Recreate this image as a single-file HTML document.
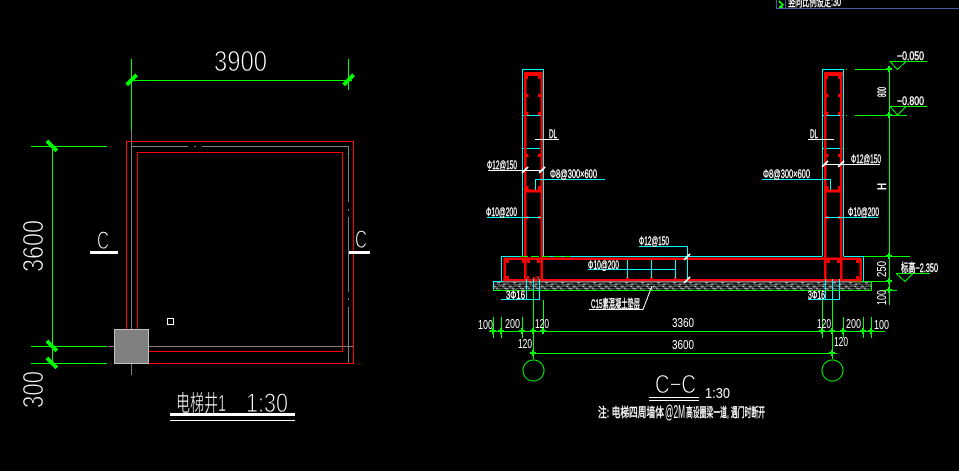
<!DOCTYPE html>
<html><head><meta charset="utf-8"><style>
html,body{margin:0;padding:0;background:#000;overflow:hidden;width:959px;height:471px}
svg{display:block}
text{font-family:"Liberation Sans","Noto Sans CJK SC",sans-serif;fill:#fff}
.n{stroke:#000;stroke-width:.9px}
.m{stroke:#000;stroke-width:.5px}
.b{font-size:12px;stroke:#fff;stroke-width:.4px}
.g{stroke:#0f0;fill:none}.r{stroke:#f00;fill:none}.c{stroke:#0ff;fill:none}.y{stroke:#808080;fill:none}.w{stroke:#fff;fill:none}
</style></head><body>
<svg width="959" height="471" viewBox="0 0 959 471" xmlns="http://www.w3.org/2000/svg" shape-rendering="crispEdges">
<defs>
<g id="t"><path d="M-5 5L5 -5" stroke="#0f0" stroke-width="4"/></g>
<g id="u"><path d="M-5 -5L5 5" stroke="#0f0" stroke-width="4"/></g>
<g id="k"><path d="M-3 0H3M0 -3V3" stroke="#0f0" stroke-width="2"/></g>
<g id="wt"><path d="M-3 3L3 -3" stroke="#fff" stroke-width="2"/></g>
<pattern id="h" width="16" height="9" patternUnits="userSpaceOnUse" x="493" y="282">
<rect width="16" height="9" fill="#4a4a4a"/>
<path d="M0 1.5h4M7 1.5h3M12 3.5h4M2 3.5h3M5 5.5h5M13 5.5h2M0 7.5h3M8 7.5h4" stroke="#000" stroke-width="1"/>
<path d="M4 .5h3M10 2.5h2M0 4.5h3M9 4.5h2M3 6.5h2M11 6.5h4M5 8.5h3" stroke="#a0a0a0" stroke-width="1"/>
</pattern>
</defs>

<!-- PLAN -->
<path class="y" d="M131.5 130V375M131.5 146.5H188M194 146.5H196M202 146.5H348.5V202M348.5 209V211M348.5 217V292M348.5 298V300M348.5 307V363M108 346.5H353"/>
<rect class="r" x="126.5" y="141.5" width="227" height="222"/>
<rect class="r" x="137.5" y="152.5" width="205" height="199"/>
<rect x="114.5" y="329.5" width="34" height="34" fill="#808080" stroke="#c0c0c0"/>
<rect class="w" x="167.5" y="318.5" width="6" height="6"/>
<path class="g" d="M131.5 59V130M348.5 59V90M131 80.5H352M31 146.5H107M31 346.5H107M31 363.5H107M52.5 146V364M348.5 153V154"/>
<use href="#t" x="131.5" y="80"/><use href="#t" x="348.5" y="80"/>
<use href="#u" x="52" y="146"/><use href="#u" x="52" y="346"/><use href="#u" x="52" y="363"/>
<text x="214" y="71" font-size="29" class="n" textLength="53" lengthAdjust="spacingAndGlyphs">3900</text>
<text transform="translate(43 272) rotate(-90)" font-size="29" class="n" textLength="52" lengthAdjust="spacingAndGlyphs">3600</text>
<text transform="translate(43 408) rotate(-90)" font-size="29" class="n" textLength="37" lengthAdjust="spacingAndGlyphs">300</text>
<text x="97" y="249" font-size="25" class="n" textLength="12" lengthAdjust="spacingAndGlyphs">C</text>
<text x="355" y="248" font-size="25" class="n" textLength="12" lengthAdjust="spacingAndGlyphs">C</text>
<rect x="90" y="251" width="28" height="3" fill="#fff"/>
<rect x="349" y="251" width="21" height="3" fill="#fff"/>
<text x="176" y="411" font-size="23" class="m" textLength="50" lengthAdjust="spacingAndGlyphs">电梯井1</text>
<text x="246" y="412" font-size="27" class="n" textLength="42" lengthAdjust="spacingAndGlyphs">1:30</text>
<rect x="170" y="413" width="125" height="3" fill="#fff"/>
<rect x="170" y="420" width="125" height="1" fill="#fff"/>

<!-- top right -->
<path d="M776.5 0V8.5H959M785.5 0V8" stroke="#4a5aa8" fill="none"/>
<path d="M779 1L783 5L779 7H783" stroke="#0f0" fill="none" stroke-width="1.5"/>
<text x="788" y="6" class="b" textLength="53" lengthAdjust="spacingAndGlyphs">竖向比例设定:30</text>

<!-- SECTION hatch -->
<rect x="493.5" y="281.5" width="378" height="9" fill="url(#h)"/>
<path class="c" d="M493.5 290.5V281.5H850"/>
<path class="g" d="M493.5 290.5H871.5V281.5H850M855 256.5H910M880 290.5H897M855 281.5H892"/>

<!-- left wall -->
<path class="c" d="M522.5 256V69.5H543.5V256M522.5 115.5H543.5M523 148.5H540"/>
<path d="M525 76V258M541.5 76V258" stroke="#f00" stroke-width="2.5" fill="none"/>
<rect x="524" y="72" width="19" height="4" fill="#f00"/>
<rect x="525" y="189.5" width="17" height="3" fill="#f00"/>
<g fill="#f00">
<rect x="526" y="76" width="2" height="3"/><rect x="538" y="76" width="2" height="3"/>
<rect x="526" y="94" width="2.5" height="3"/><rect x="538" y="94" width="2.5" height="3"/>
<rect x="526" y="112" width="2.5" height="3"/><rect x="538" y="112" width="2.5" height="3"/>
<rect x="526" y="154" width="2.5" height="3"/><rect x="538" y="154" width="2.5" height="3"/>
<rect x="526" y="186" width="2.5" height="4"/><rect x="538" y="186" width="2.5" height="4"/>
<rect x="526" y="216" width="2.5" height="3"/><rect x="538" y="216" width="2.5" height="3"/>
</g>
<!-- right wall -->
<path class="c" d="M822.5 256V69.5H843.5V256M822.5 115.5H843.5M823 148.5H843"/>
<path d="M825 76V258M841 76V258" stroke="#f00" stroke-width="2.5" fill="none"/>
<rect x="824" y="72" width="19" height="4" fill="#f00"/>
<rect x="825" y="189.5" width="17" height="3" fill="#f00"/>
<g fill="#f00">
<rect x="826" y="76" width="2" height="3"/><rect x="838" y="76" width="2" height="3"/>
<rect x="826" y="94" width="2.5" height="3"/><rect x="838" y="94" width="2.5" height="3"/>
<rect x="826" y="112" width="2.5" height="3"/><rect x="838" y="112" width="2.5" height="3"/>
<rect x="826" y="154" width="2.5" height="3"/><rect x="838" y="154" width="2.5" height="3"/>
<rect x="826" y="186" width="2.5" height="4"/><rect x="838" y="186" width="2.5" height="4"/>
<rect x="826" y="216" width="2.5" height="3"/><rect x="838" y="216" width="2.5" height="3"/>
</g>

<!-- base -->
<path class="c" d="M522.5 256.5H501.5V281.5M543.5 256.5H822.5M843.5 256.5H863.5V281.5"/>
<path d="M520 256.5H570" stroke="#0f0" stroke-dasharray="8 3"/>
<path d="M504 258.5H861M503 280H862" stroke="#f00" stroke-width="2.5" fill="none"/>
<path d="M504.5 258V281M860.5 258V281" stroke="#f00" stroke-width="2.5" fill="none"/>
<path d="M525 258V281M541.5 258V281M825 258V281M841 258V281" stroke="#f00" stroke-width="2.5" fill="none"/>
<g fill="#f00">
<rect x="506" y="260" width="3" height="3"/><rect x="506" y="276" width="3" height="3"/>
<rect x="522" y="260" width="2" height="3"/><rect x="527" y="260" width="3" height="3"/>
<rect x="537" y="260" width="3" height="3"/><rect x="527" y="276" width="2" height="3"/>
<rect x="537" y="276" width="2" height="3"/><rect x="533" y="277" width="2" height="2"/>
<rect x="827" y="260" width="3" height="3"/><rect x="837" y="260" width="3" height="3"/>
<rect x="856" y="260" width="3" height="3"/><rect x="856" y="276" width="3" height="3"/>
<rect x="626" y="277" width="2.5" height="2"/><rect x="650" y="277" width="2.5" height="2"/><rect x="674" y="277" width="2.5" height="2"/>
</g>
<path class="c" d="M588 269.5H676M627.5 260V278M651.5 260V278M675.5 260V278M639 246.5H687.5V280"/>
<use href="#wt" x="687" y="257"/><use href="#wt" x="687" y="280"/>

<!-- leaders left -->
<path class="w" d="M488 170.5H543M535 139.5H559"/>
<use href="#wt" x="525" y="170"/><use href="#wt" x="542" y="170"/>
<path class="c" d="M605 179.5H535.5V190M487 217.5H541"/>
<!-- leaders right -->
<path class="w" d="M825 164.5H880M808 139.5H834"/>
<use href="#wt" x="825" y="164"/><use href="#wt" x="841" y="164"/>
<path class="c" d="M762 179.5H830.5V190M825 217.5H878"/>
<text x="549" y="138" class="b" textLength="8" lengthAdjust="spacingAndGlyphs">DL</text>
<text x="810" y="138" class="b" textLength="8" lengthAdjust="spacingAndGlyphs">DL</text>
<text x="487" y="169" class="b" textLength="30" lengthAdjust="spacingAndGlyphs">Φ12@150</text>
<text x="550" y="178" class="b" textLength="47" lengthAdjust="spacingAndGlyphs">Φ8@300×600</text>
<text x="486" y="216" class="b" textLength="31" lengthAdjust="spacingAndGlyphs">Φ10@200</text>
<text x="851" y="163" class="b" textLength="30" lengthAdjust="spacingAndGlyphs">Φ12@150</text>
<text x="763" y="178" class="b" textLength="47" lengthAdjust="spacingAndGlyphs">Φ8@300×600</text>
<text x="848" y="216" class="b" textLength="31" lengthAdjust="spacingAndGlyphs">Φ10@200</text>
<text x="639" y="245" class="b" textLength="30" lengthAdjust="spacingAndGlyphs">Φ12@150</text>
<text x="588" y="269" class="b" textLength="31" lengthAdjust="spacingAndGlyphs">Φ10@200</text>

<!-- bottom rebar callouts -->
<path class="c" d="M501 299.5H539.5V279M526.5 299V279M533.5 299V279M808 299.5H839.5V279M825.5 299V279M832.5 299V279"/>
<text x="506" y="299" class="b" textLength="19" lengthAdjust="spacingAndGlyphs">3Φ16</text>
<text x="808" y="299" class="b" textLength="17" lengthAdjust="spacingAndGlyphs">3Φ16</text>
<path class="w" d="M589 309.5H643L652 286"/>
<text x="591" y="308" class="b" textLength="49" lengthAdjust="spacingAndGlyphs">C15素混凝土垫层</text>

<!-- right dims -->
<path class="g" d="M855 69.5H892M855 115.5H907M889.5 69V305M890 61.5H927M890 106.5H927M890 61.5L897.5 69.5L906 61.5M890 106.5L897.5 115L906 106.5M896 273.5H930M896 273.5L905 281.5L913 273.5"/>
<path d="M846.5 69V70M846.5 115V116" stroke="#0f0"/>
<use href="#k" x="889" y="69"/><use href="#k" x="889" y="115"/><use href="#k" x="889" y="256"/><use href="#k" x="889" y="281"/><use href="#k" x="889" y="290"/>
<text x="897" y="60" class="b" textLength="27" lengthAdjust="spacingAndGlyphs">−0.050</text>
<text x="897" y="105" class="b" textLength="27" lengthAdjust="spacingAndGlyphs">−0.800</text>
<text x="901" y="272" class="b" textLength="37" lengthAdjust="spacingAndGlyphs">标高−2.350</text>
<text transform="translate(886 97) rotate(-90)" class="b" textLength="10" lengthAdjust="spacingAndGlyphs">800</text>
<text transform="translate(886 190) rotate(-90)" class="b" textLength="7" lengthAdjust="spacingAndGlyphs">H</text>
<text transform="translate(886 277) rotate(-90)" font-size="13" textLength="16" lengthAdjust="spacingAndGlyphs">250</text>
<text transform="translate(886 305) rotate(-90)" font-size="13" textLength="15" lengthAdjust="spacingAndGlyphs">100</text>

<!-- bottom dims -->
<path class="g" d="M489 331.5H885M533 353.5H837M493.5 317V338M501.5 317V338M522.5 317V338M533.5 291V359M543.5 300V331M822.5 300V338M832.5 300V359M843.5 317V338M863.5 317V338M871.5 317V338"/>
<g fill="none" stroke="#0f0"><circle cx="533.5" cy="370.5" r="10.5" shape-rendering="auto"/><circle cx="832.5" cy="370.5" r="10.5" shape-rendering="auto"/></g>
<use href="#k" x="493" y="331"/><use href="#k" x="501" y="331"/><use href="#k" x="522" y="331"/><use href="#k" x="533" y="331"/><use href="#k" x="543" y="331"/>
<use href="#k" x="822" y="331"/><use href="#k" x="832" y="331"/><use href="#k" x="843" y="331"/><use href="#k" x="863" y="331"/><use href="#k" x="871" y="331"/>
<use href="#k" x="533" y="353"/><use href="#k" x="832" y="353"/>
<g font-size="13">
<text x="478" y="329" textLength="15" lengthAdjust="spacingAndGlyphs">100</text>
<text x="505" y="328" textLength="15" lengthAdjust="spacingAndGlyphs">200</text>
<text x="535" y="328" textLength="14" lengthAdjust="spacingAndGlyphs">120</text>
<text x="518" y="348" textLength="14" lengthAdjust="spacingAndGlyphs">120</text>
<text x="672" y="327" textLength="22" lengthAdjust="spacingAndGlyphs">3360</text>
<text x="672" y="349" textLength="22" lengthAdjust="spacingAndGlyphs">3600</text>
<text x="817" y="328" textLength="14" lengthAdjust="spacingAndGlyphs">120</text>
<text x="846" y="328" textLength="15" lengthAdjust="spacingAndGlyphs">200</text>
<text x="874" y="329" textLength="15" lengthAdjust="spacingAndGlyphs">100</text>
<text x="834" y="346" textLength="14" lengthAdjust="spacingAndGlyphs">120</text>
</g>
<text x="655" y="393" font-size="26" class="n" textLength="41" lengthAdjust="spacingAndGlyphs">C−C</text>
<text x="705" y="398" font-size="15" textLength="25" lengthAdjust="spacingAndGlyphs">1:30</text>
<path class="w" d="M649 397.5H699M649 400.5H699"/>
<text x="598" y="417" font-size="13" stroke="#fff" stroke-width=".4" textLength="66" lengthAdjust="spacingAndGlyphs">注: 电梯四周墙体</text>
<text x="665" y="418" font-size="18" textLength="20" lengthAdjust="spacingAndGlyphs">@2M</text>
<text x="686" y="417" font-size="13" stroke="#fff" stroke-width=".4" textLength="79" lengthAdjust="spacingAndGlyphs">高设圈梁一道, 遇门时断开</text>
</svg>
</body></html>
